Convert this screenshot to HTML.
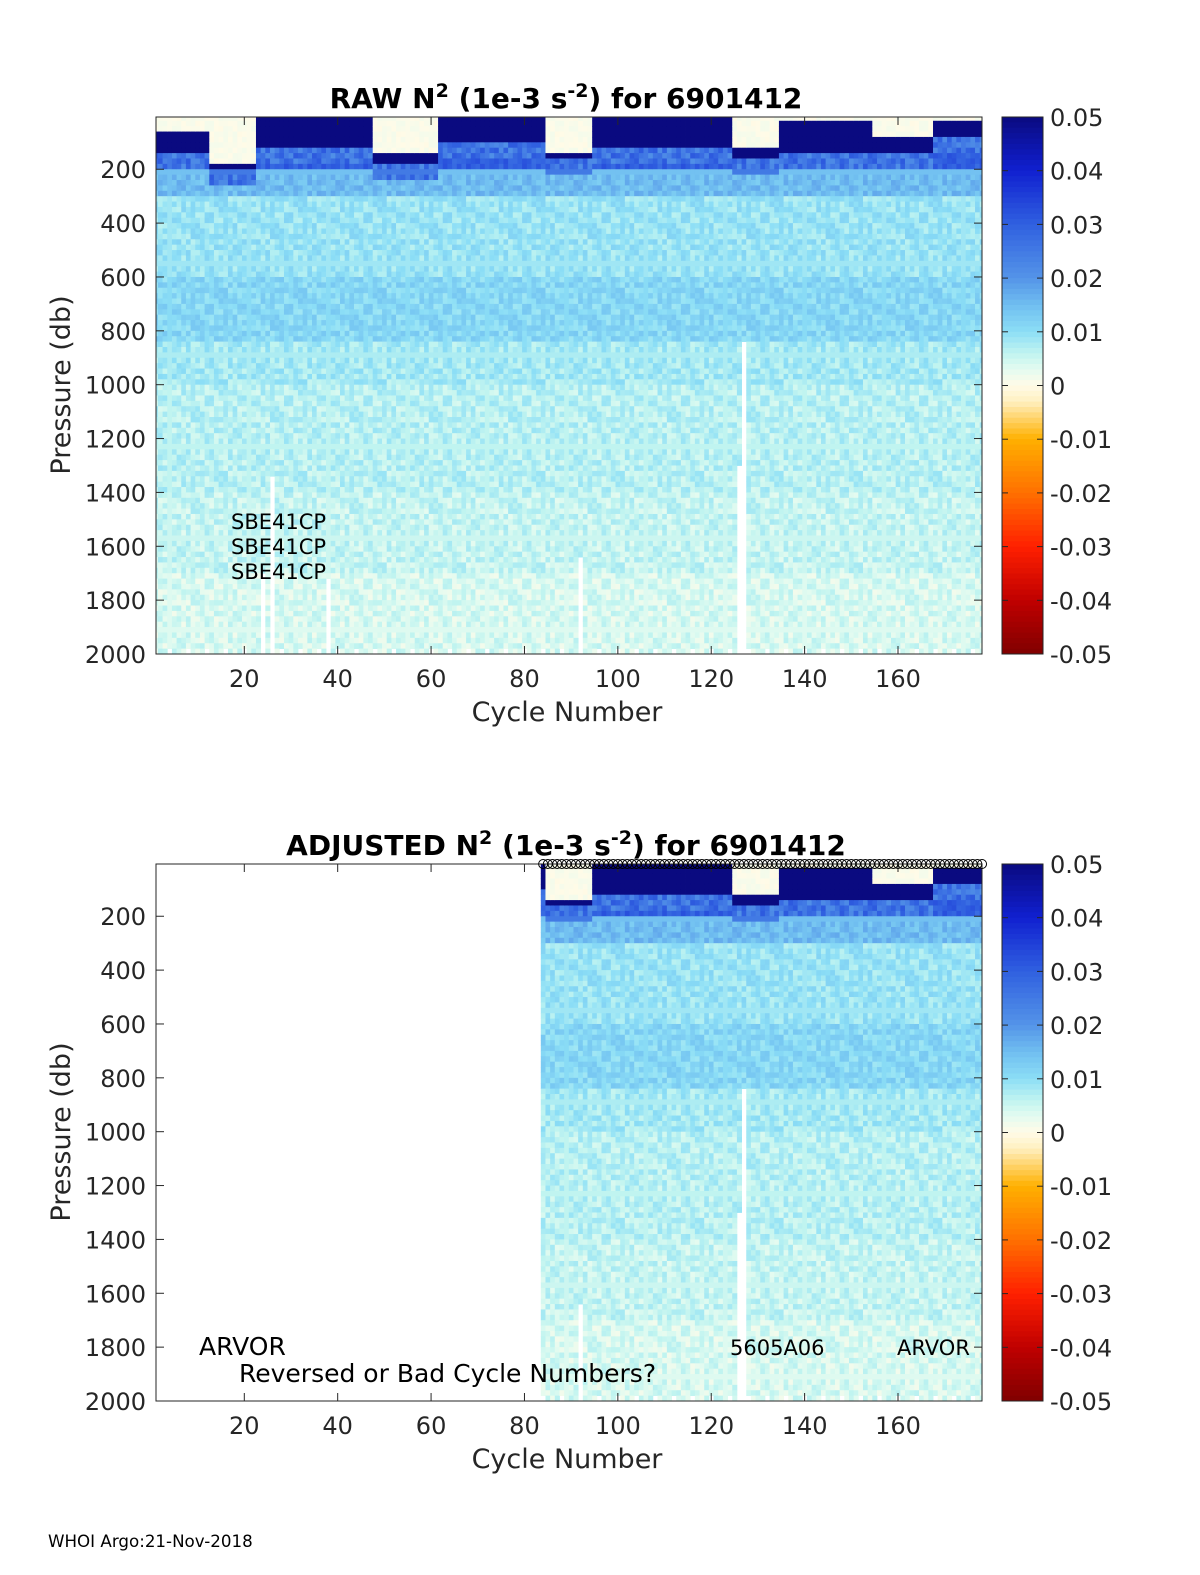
<!DOCTYPE html>
<html><head><meta charset="utf-8">
<style>
html,body{margin:0;padding:0;background:#fff;overflow:hidden;width:1200px;height:1575px;}
svg{display:block;font-family:"DejaVu Sans","Liberation Sans",sans-serif;}
</style></head>
<body>
<svg id="chart" width="1200" height="1575" viewBox="0 0 1200 1575" xmlns="http://www.w3.org/2000/svg">
<defs>
<clipPath id="clipTop"><rect x="156" y="117" width="826" height="537"/></clipPath>
<clipPath id="clipBot"><rect x="156" y="864" width="826" height="537"/></clipPath>
</defs>
<g id="top"></g>
<g id="bot"></g>
<text x="48" y="1547" font-size="16.7" fill="#000">WHOI Argo:21-Nov-2018</text>
</svg>
<script>
// ---- data ----
const cycleMin = 1, cycleMax = 178;
const xTicks = [20,40,60,80,100,120,140,160];
const yTicks = [200,400,600,800,1000,1200,1400,1600,1800,2000];
const cbTicks = [0.05,0.04,0.03,0.02,0.01,0,-0.01,-0.02,-0.03,-0.04,-0.05];
const cbLabels = ["0.05","0.04","0.03","0.02","0.01","0","-0.01","-0.02","-0.03","-0.04","-0.05"];
const profDepth = [0,200,300,500,600,850,1000,1400,1700,2000];
const profVal = [0.03,0.015,0.009,0.009,0.011,0.008,0.0065,0.0055,0.004];
const segStart = [1,13,23,48,62,85,95,125,135,155,168];
const segLight = [60,180,10,150,10,140,10,130,15,90,15];
const segDark = [80,20,110,40,90,30,120,30,120,60,70];
const gapCycle = [24,26,38,92,126,127];
const gapTop = [1700,1340,1720,1640,1300,840];
const noisePattern = [0.0015,-0.002,0.0005,0.0025,-0.0008,0.000,-0.0015,0.002,-0.0025,0.0008,0.0012,-0.0005,0.002,-0.0012,0.000,0.0025,-0.002];
const adjStart = 84;

// ---- scales ----
const X0=156, X1=982, PH=537;
function X(c){return 244.3+(c-20)*((898-244.3)/140);}
function Yf(top){return d=>top+(d-6)*(PH/1994);}
const stops=[[-0.05,[128,0,0]],[-0.04,[192,0,0]],[-0.03,[255,32,0]],[-0.02,[255,112,0]],[-0.01,[255,176,0]],[-0.003,[255,240,192]],[0,[255,251,232]],[0.003,[228,251,240]],[0.006,[192,244,240]],[0.01,[140,222,246]],[0.015,[112,190,240]],[0.02,[84,148,232]],[0.03,[48,96,224]],[0.04,[16,32,208]],[0.05,[10,10,128]]];
function col(v){v=Math.max(-0.05,Math.min(0.05,v));
 for(let i=0;i<stops.length-1;i++){const a=stops[i],b=stops[i+1];
  if(v<=b[0]){const t=(v-a[0])/(b[0]-a[0]);const c=a[1].map((x,k)=>Math.round(x+(b[1][k]-x)*t));return `rgb(${c})`;}}
 return 'rgb(10,10,128)';}
function seg(c){let k=0;for(let i=0;i<segStart.length;i++) if(c>=segStart[i]) k=i;return k;}
function prof(d){for(let i=0;i<profVal.length;i++) if(d<profDepth[i+1]) return profVal[i];return profVal[profVal.length-1];}
function value(c,d,r){
 const k=seg(c), L=segLight[k], D=segDark[k];
 const n=noisePattern[(c*7+r*13+c*r)%noisePattern.length];
 if(d<L) return 0.0005+n*0.3;
 if(d<L+D) return 0.05;
 if(d<L+D+60) return 0.026+n*2;
 return prof(d)+n;
}
const NS='http://www.w3.org/2000/svg';
function el(tag,attrs,parent,txt){const e=document.createElementNS(NS,tag);for(const k in attrs)e.setAttribute(k,attrs[k]);if(txt!==undefined)e.textContent=txt;parent.appendChild(e);return e;}

function panel(g,top,minC,title,clip){
 const Y=Yf(top);
 const hm=el('g',{'clip-path':`url(#${clip})`},g);
 
 
 const dStep=20, w=(898-244.3)/140;
 for(let c=minC;c<=cycleMax;c++){
  const gi=gapCycle.indexOf(c);
  for(let r=0;r*dStep<2000;r++){
   const d=r*dStep+dStep/2;
   if(gi>=0 && d>gapTop[gi]) continue;
   if(d>1985 && (c%4===0)) continue;
   const y0=Y(r*dStep), y1=Y((r+1)*dStep);
   const rc=el('rect',{x:(X(c-0.5)).toFixed(2),y:y0.toFixed(2),width:(w+0.4).toFixed(2),height:(y1-y0+0.4).toFixed(2),fill:col(value(c,d,r))},hm);
   
   
  }
 }
 el('rect',{x:X0,y:top,width:X1-X0,height:PH,fill:'none',stroke:'#262626','stroke-width':1},g);
 xTicks.forEach(t=>{const x=X(t);
  el('line',{x1:x,x2:x,y1:top+PH,y2:top+PH-8,stroke:'#262626'},g);
  el('line',{x1:x,x2:x,y1:top,y2:top+8,stroke:'#262626'},g);
  const tx=el('text',{x:x,y:top+PH+33,'font-size':24,'text-anchor':'middle',fill:'#262626'},g,String(t));
  
  
 });
 yTicks.forEach(t=>{const y=Y(t);
  el('line',{x1:X0,x2:X0+8,y1:y,y2:y,stroke:'#262626'},g);
  el('line',{x1:X1,x2:X1-8,y1:y,y2:y,stroke:'#262626'},g);
  const tx=el('text',{x:146,y:y+9,'font-size':24,'text-anchor':'end',fill:'#262626'},g,String(t));
  
  
 });
 const xl=el('text',{x:567,y:top+604,'font-size':27,'text-anchor':'middle',fill:'#262626'},g,'Cycle Number');
 
 
 const yl=el('text',{x:0,y:0,'font-size':27,'text-anchor':'middle',fill:'#262626',transform:`translate(70,${top+268}) rotate(-90)`},g,'Pressure (db)');
 
 
 const tt=el('text',{x:566,y:top-9,'font-size':28,'font-weight':'bold','text-anchor':'middle',fill:'#000'},g);
 
 
 el('tspan',{},tt,title+' N');
 el('tspan',{dy:-11,'font-size':19},tt,'2');
 el('tspan',{dy:11},tt,' (1e-3 s');
 el('tspan',{dy:-11,'font-size':19},tt,'-2');
 el('tspan',{dy:11},tt,') for 6901412');
 const cb=el('g',{},g);
 
 
 const n=100;
 for(let i=0;i<n;i++){const v=0.05-(i+0.5)*0.1/n;
  el('rect',{x:1002,y:top+i*PH/n,width:41,height:PH/n+0.5,fill:col(v)},cb);}
 el('rect',{x:1002,y:top,width:41,height:PH,fill:'none',stroke:'#262626'},cb);
 cbTicks.forEach((t,i)=>{const y=top+(0.05-t)/0.1*PH;
  el('line',{x1:1043,x2:1037,y1:y,y2:y,stroke:'#262626'},cb);
  el('line',{x1:1002,x2:1008,y1:y,y2:y,stroke:'#262626'},cb);
  const tx=el('text',{x:1050,y:y+9,'font-size':24,fill:'#262626'},cb,cbLabels[i]);
  
  
 });
}
const topG=document.getElementById('top'), botG=document.getElementById('bot');
panel(topG,117,cycleMin,'RAW','clipTop');
panel(botG,864,adjStart,'ADJUSTED','clipBot');
['SBE41CP','SBE41CP','SBE41CP'].forEach((s,i)=>{
 const t=el('text',{x:231,y:529+i*25,'font-size':21,fill:'#000'},topG,s);
 
 
});
const ann=[[199,1355,'ARVOR',25],[239,1382,'Reversed or Bad Cycle Numbers?',25],[730,1355,'5605A06',21],[897,1355,'ARVOR',21]];
ann.forEach(a=>{const t=el('text',{x:a[0],y:a[1],'font-size':a[3],fill:'#000'},botG,a[2]);
 
 });
for(let c=adjStart;c<=cycleMax;c++){
 const m=el('circle',{cx:X(c),cy:864,r:4.5,fill:'none',stroke:'#000','stroke-width':1},botG);
 
 
}
</script>
</body></html>
